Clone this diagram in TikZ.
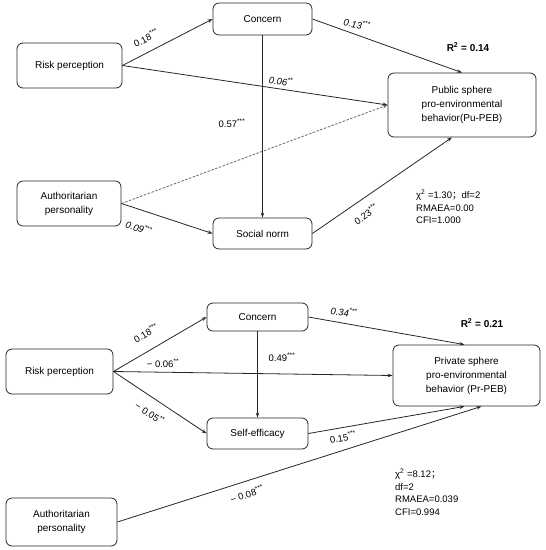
\documentclass[tikz,border=0pt]{standalone}
\usepackage{fontspec}
\setmainfont{Liberation Sans}
\newfontfamily\cjk{Noto Sans CJK SC}
\usetikzlibrary{arrows.meta,calc}
\begin{document}
\begin{tikzpicture}[x=1pt,y=-1pt,
  box/.style={draw=black!85,line width=0.8pt,rounded corners=6pt,align=center,inner sep=1pt,font=\fontsize{10}{14}\selectfont},
  link/.style={draw=black!85,line width=0.8pt,-{Stealth[length=5pt,width=3.5pt]}},
  dlink/.style={link,draw=black!60,dashed,dash pattern=on 2.5pt off 1.5pt},
  lab/.style={font=\fontsize{9.5}{11}\selectfont,inner sep=1pt},
  ilab/.style={lab,font=\fontsize{9.5}{11}\selectfont\itshape},
  stat/.style={align=left,anchor=north west,inner sep=0pt,font=\fontsize{9.5}{12.5}\selectfont},
  rsq/.style={font=\fontsize{10}{12}\selectfont\bfseries}]
\useasboundingbox (0,0) rectangle (546,550);
\newcommand{\st}[1]{\textsuperscript{#1}}
% ---------- top model ----------
\node[box,minimum width=105pt,minimum height=45pt] (riskA) at (69.5,65.5) {Risk perception};
\node[box,minimum width=99pt,minimum height=32pt] (concA) at (262.5,19) {Concern};
\node[box,minimum width=148pt,minimum height=64pt] (pubA) at (462,105) {Public sphere\\pro-environmental\\behavior(Pu-PEB)};
\node[box,minimum width=104pt,minimum height=45pt] (authA) at (69,203.5) {Authoritarian\\personality};
\node[box,minimum width=99pt,minimum height=31pt] (socA) at (262.5,233.5) {Social norm};
\draw[link] (riskA.east) -- (concA.west);
\draw[link] (riskA.east) -- (pubA.west);
\draw[dlink] (authA.east) -- (pubA.west);
\draw[link] (authA.east) -- (socA.west);
\draw[link] (concA.south) -- (socA.north);
\draw[link] (concA.east) -- (pubA.north);
\draw[link] (socA.east) -- ([xshift=-10pt]pubA.south);
\node[lab,rotate=27] (l1) at (146,38) {0.18\st{***}};
\node[ilab,rotate=-6] (l2) at (281,81) {0.06\st{**}};
\node[ilab,rotate=-10] (l3) at (357,24) {0.13\st{***}};
\node[lab] (l4) at (232,123) {0.57\st{***}};
\node[ilab,rotate=-18] (l5) at (139,228) {0.09\st{***}};
\node[lab,rotate=35] (l6) at (366,214) {0.23\st{***}};
\node[rsq] (r1) at (468,47) {R\textsuperscript{2} = 0.14};
\node[stat] (s1) at (416,190) {χ\textsuperscript{2} =1.30{\cjk ；}df=2\\RMAEA=0.00\\CFI=1.000};
% ---------- bottom model ----------
\node[box,minimum width=101pt,minimum height=28pt] (concB) at (257.5,317) {Concern};
\node[box,minimum width=107pt,minimum height=45pt] (riskB) at (59.5,371.5) {Risk perception};
\node[box,minimum width=147pt,minimum height=61pt] (privB) at (466.5,375.5) {Private sphere\\pro-environmental\\behavior (Pr-PEB)};
\node[box,minimum width=101pt,minimum height=31pt] (seB) at (257.5,433.5) {Self-efficacy};
\node[box,minimum width=111pt,minimum height=48pt] (authB) at (61.5,522) {Authoritarian\\personality};
\draw[link] (riskB.east) -- (concB.west);
\draw[link] (riskB.east) -- (privB.west);
\draw[link] (riskB.east) -- (seB.west);
\draw[link] (concB.south) -- (seB.north);
\draw[link] (concB.east) -- ([xshift=-2pt]privB.north);
\draw[link] (seB.east) -- ([xshift=-2pt]privB.south);
\draw[link] (authB.east) -- ([xshift=15pt]privB.south);
\node[lab,rotate=30] (m1) at (146,333) {0.18\st{***}};
\node[lab] (m2) at (163,363) {− 0.06\st{**}};
\node[lab] (m3) at (282,357) {0.49\st{***}};
\node[ilab,rotate=-5] (m4) at (344,312) {0.34\st{***}};
\node[lab,rotate=-33] (m5) at (150,413) {− 0.05\st{**}};
\node[lab,rotate=18] (m6) at (247,494) {− 0.08\st{***}};
\node[lab,rotate=10] (m7) at (343,437) {0.15\st{***}};
\node[rsq] (r2) at (482,323) {R\textsuperscript{2} = 0.21};
\node[stat] (s2) at (395,469) {χ\textsuperscript{2} =8.12{\cjk ；}\\df=2\\RMAEA=0.039\\CFI=0.994};
\end{tikzpicture}
\end{document}
